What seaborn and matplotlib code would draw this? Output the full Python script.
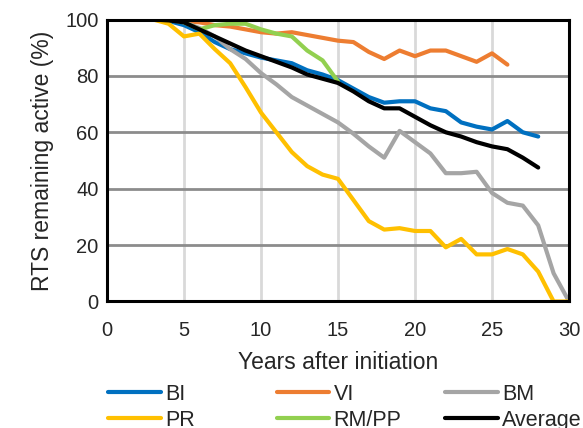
import numpy as np
import pandas as pd
import seaborn as sns
import matplotlib.pyplot as plt
from matplotlib.lines import Line2D

# values (% of RTS remaining active by year)
bi = [100, 100, 100, 99.5, 98, 95.5, 92, 89.5, 88, 86.5, 85.5, 84.5, 82, 80.5, 78.5,
      75.5, 72.5, 70.5, 71, 71, 68.5, 67.5, 63.5, 62, 61, 64, 60, 58.5]
vi = [100, 100, 100, 100, 99.5, 99, 98, 97.5, 96.5, 95.5, 95, 95.5, 94.5, 93.5, 92.5,
      92, 88.5, 86, 89, 87, 89, 89, 87, 85, 88, 84]
bm = [100, 100, 100, 100, 99, 97, 94, 89.5, 86, 81, 77, 72.5, 69.5, 66.5, 63.5,
      59.5, 55, 51, 60.5, 56.5, 52.5, 45.5, 45.5, 46, 38.5, 35, 34, 27, 10, 0]
pr = [100, 100, 100, 98.5, 94, 95, 89.5, 84.5, 76, 67, 60, 53, 48, 45, 43.5,
      36, 28.5, 25.5, 26, 25, 25, 19.2, 22.2, 16.7, 16.7, 18.6, 16.7, 10.6, 0, 0]
rmpp = [100, 100, 100, 100, 99, 96.5, 98, 98.5, 98.5, 96.5, 95, 94, 89, 85.5, 78]
avg = [100, 100, 100, 99.7, 99, 96.5, 94, 91.5, 89, 87, 85, 83, 80.5, 79, 77.5,
       74.5, 71, 68.5, 68.5, 65.5, 62.5, 60, 58.5, 56.5, 55, 54, 51, 47.5]

names = ['BI', 'VI', 'BM', 'PR', 'RM/PP', 'Average']
series = [bi, vi, bm, pr, rmpp, avg]
colors = ['#0070C0', '#ED7D31', '#A5A5A5', '#FFC000', '#92D050', '#000000']

frames = []
for n, s in zip(names, series):
    frames.append(pd.DataFrame({'year': np.arange(1, len(s) + 1), 'pct': s, 'series': n}))
df = pd.concat(frames, ignore_index=True)

sns.set_style('white')
plt.rcParams['font.family'] = ['Liberation Sans', 'DejaVu Sans']

fig = plt.figure(figsize=(5.83, 4.28), dpi=100)
ax = fig.add_axes([0.1835, 0.2956, 0.7925, 0.6588])

sns.lineplot(data=df, x='year', y='pct', hue='series', hue_order=names,
             palette=dict(zip(names, colors)), lw=3, ax=ax, legend=False, zorder=3)

ax.set_xlim(0, 30)
ax.set_ylim(0, 100)
ax.set_xticks(range(0, 31, 5))
ax.set_yticks(range(0, 101, 20))
for x in range(5, 30, 5):
    ax.axvline(x, color='#d9d9d9', lw=2, zorder=1)
for y in range(20, 100, 20):
    ax.axhline(y, color='#8c8c8c', lw=2, zorder=1)
for sp in ax.spines.values():
    sp.set_color('black')
    sp.set_linewidth(2.2)
    sp.set_zorder(4)
ax.tick_params(axis='both', length=0, labelsize=14.5)
ax.tick_params(axis='x', pad=14)
ax.tick_params(axis='y', pad=6)
ax.set_xlabel('Years after initiation', fontsize=16.5, labelpad=8)
ax.set_ylabel('RTS remaining active (%)', fontsize=16.5, labelpad=8)

# excel-style legend: three evenly spaced columns below the axes
xs = [108 / 583, 276.7 / 583, 445 / 583]
cols = [[0, 3], [1, 4], [2, 5]]
for x0, idx in zip(xs, cols):
    hs = [Line2D([], [], color=colors[i], lw=3) for i in idx]
    lg = fig.legend(hs, [names[i] for i in idx], loc='upper left',
                    bbox_to_anchor=(x0, 1 - 384 / 428), frameon=False, fontsize=15.5,
                    handlelength=2.45, handletextpad=0.2, labelspacing=0.22,
                    borderpad=0, borderaxespad=0)

fig.savefig('out.png', dpi=100)
